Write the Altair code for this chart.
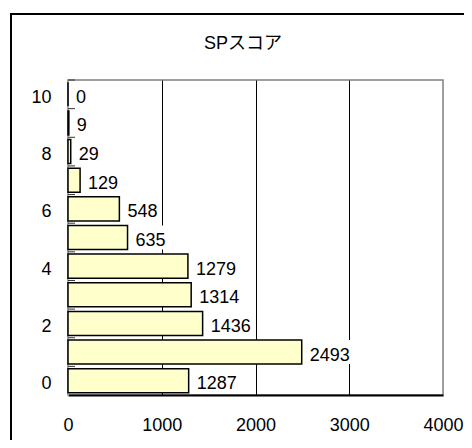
import altair as alt
import pandas as pd

scores = [0, 1, 2, 3, 4, 5, 6, 7, 8, 9, 10]
counts = [1287, 2493, 1436, 1314, 1279, 635, 548, 129, 29, 9, 0]
x_ticks = [0, 1000, 2000, 3000, 4000]
y_label_values = [0, 2, 4, 6, 8, 10]
title_text = "SPスコア"

df = pd.DataFrame({"score": scores, "count": counts})
frame_df = pd.DataFrame({"k": [0]})
title_df = pd.DataFrame({"t": [title_text]})

FONT = "Liberation Sans, Noto Sans CJK JP"
FS = 18

ysc = alt.Scale(paddingInner=0.16, paddingOuter=0.08)
y_enc = alt.Y(
    "score:O", sort="descending", scale=ysc,
    axis=alt.Axis(values=y_label_values, title=None, ticks=False, tickSize=0,
                  labelPadding=17, labelOffset=3.5, domainColor="#b8b8b8",
                  domainWidth=1, labelFontSize=FS, labelColor="black",
                  labelFont=FONT, labelAngle=0),
)
x_enc = alt.X(
    "count:Q", scale=alt.Scale(domain=[0, 4000], nice=False),
    axis=alt.Axis(values=x_ticks, title=None, ticks=False, labelPadding=21,
                  format="d",
                  domainColor="black", domainWidth=2,
                  gridColor={"condition": {"test": "datum.value == 0 || datum.value == 4000",
                                           "value": "transparent"}, "value": "black"},
                  gridWidth=1, labelFontSize=FS, labelColor="black", labelFont=FONT,
                  labelFlush=False),
)

base = alt.Chart(df)

bars = base.mark_bar(fill="#FFFFCC", stroke="black", strokeWidth=1.5).encode(
    x=x_enc, y=y_enc
)

label_bg = base.transform_calculate(
    lx2="datum.count + length(toString(datum.count)) * 106"
).mark_rect(fill="white", xOffset=5, x2Offset=10).encode(
    x="count:Q", x2="lx2:Q", y=alt.Y("score:O", sort="descending")
)

labels = base.mark_text(align="left", baseline="middle", dx=8, dy=3.5,
                        font=FONT, fontSize=FS, color="black").encode(
    x="count:Q", y=alt.Y("score:O", sort="descending"), text="count:Q"
)

tick_rules = base.mark_rule(color="#333333", strokeWidth=1, yOffset=-14.3).encode(
    x=alt.value(0), x2=alt.value(7), y=alt.Y("score:O", sort="descending")
)

frame = alt.Chart(frame_df).mark_rect(filled=False, stroke="black", strokeWidth=2).encode(
    x=alt.value(-57), x2=alt.value(430), y=alt.value(-66), y2=alt.value(420)
)

title = alt.Chart(title_df).mark_text(font=FONT, fontSize=FS, color="black",
                                      align="center", baseline="middle").encode(
    x=alt.value(175), y=alt.value(-36), text="t:N"
)

chart = alt.layer(frame, bars, label_bg, labels, tick_rules, title).properties(
    width=375, height=315,
    padding={"left": 60, "top": 72, "right": 21, "bottom": 45},
    autosize=alt.AutoSizeParams(type="none"),
).configure_view(stroke="#808080", strokeWidth=1.5)

chart.save("out.html", embed_options={"renderer": "svg", "actions": False})
